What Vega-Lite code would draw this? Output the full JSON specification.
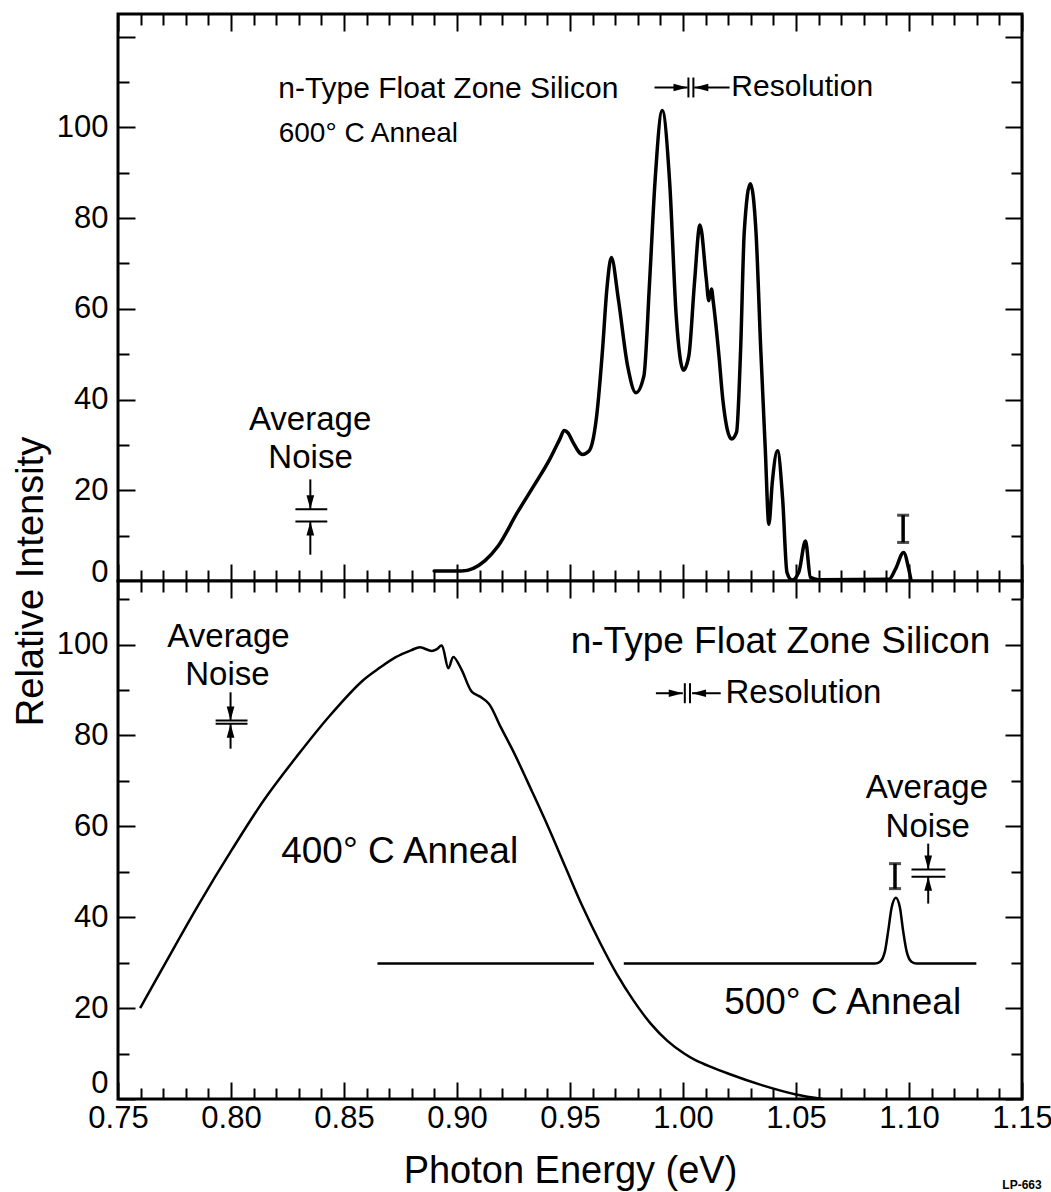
{
  "$schema": "https://vega.github.io/schema/vega-lite/v6.json",
  "background": "white",
  "padding": {"left": 10, "top": 11, "right": 4, "bottom": 0},
  "bounds": "flush",
  "spacing": 0,
  "config": {
    "font": "Liberation Sans",
    "view": {"stroke": "black", "strokeWidth": 3, "fill": "white"},
    "axis": {
      "domain": false, "grid": false,
      "tickColor": "black", "tickWidth": 2,
      "labelColor": "black", "titleColor": "black",
      "labelFont": "Liberation Sans", "titleFont": "Liberation Sans",
      "labelFontSize": 31, "titleFontSize": 38, "titleFontWeight": "normal",
      "labelOverlap": false, "labelFlush": false
    },
    "text": {"font": "Liberation Sans", "color": "black"}
  },
  "datasets": {
    "spectrum600": [
      {"energy": 0.8899, "intensity": 2.2}, {"energy": 0.9019, "intensity": 2.2},
      {"energy": 0.9124, "intensity": 4.5}, {"energy": 0.9182, "intensity": 7.7},
      {"energy": 0.9266, "intensity": 15.0}, {"energy": 0.9339, "intensity": 20.9},
      {"energy": 0.9410, "intensity": 26.8}, {"energy": 0.9457, "intensity": 31.5},
      {"energy": 0.9474, "intensity": 33.2}, {"energy": 0.9492, "intensity": 32.6},
      {"energy": 0.9511, "intensity": 30.8}, {"energy": 0.9555, "intensity": 27.9},
      {"energy": 0.9583, "intensity": 28.6}, {"energy": 0.9599, "intensity": 30.5},
      {"energy": 0.9618, "intensity": 36.4}, {"energy": 0.9644, "intensity": 51.0},
      {"energy": 0.9663, "intensity": 64.3}, {"energy": 0.9683, "intensity": 71.3},
      {"energy": 0.9714, "intensity": 62.1}, {"energy": 0.9755, "intensity": 47.4},
      {"energy": 0.9792, "intensity": 41.5}, {"energy": 0.9827, "intensity": 45.2},
      {"energy": 0.9852, "intensity": 65.8}, {"energy": 0.9876, "intensity": 87.9},
      {"energy": 0.9908, "intensity": 103.7}, {"energy": 0.9941, "intensity": 87.9},
      {"energy": 0.9970, "intensity": 58.4}, {"energy": 1.0002, "intensity": 46.5},
      {"energy": 1.0026, "intensity": 49.7}, {"energy": 1.0051, "intensity": 65.9},
      {"energy": 1.0075, "intensity": 78.5}, {"energy": 1.0103, "intensity": 66.6},
      {"energy": 1.0114, "intensity": 61.8}, {"energy": 1.0126, "intensity": 64.4},
      {"energy": 1.0134, "intensity": 61.5}, {"energy": 1.0159, "intensity": 49.7},
      {"energy": 1.0176, "intensity": 40.1}, {"energy": 1.0215, "intensity": 31.3},
      {"energy": 1.0237, "intensity": 32.8}, {"energy": 1.0255, "intensity": 51.1},
      {"energy": 1.0271, "intensity": 76.9}, {"energy": 1.0298, "intensity": 87.6},
      {"energy": 1.0323, "intensity": 76.9}, {"energy": 1.0344, "intensity": 51.1},
      {"energy": 1.0364, "intensity": 29.1}, {"energy": 1.0380, "intensity": 12.5},
      {"energy": 1.0395, "intensity": 21.7}, {"energy": 1.0418, "intensity": 28.7},
      {"energy": 1.0441, "intensity": 18.0}, {"energy": 1.0460, "intensity": 1.9},
      {"energy": 1.0482, "intensity": 0.2}, {"energy": 1.0512, "intensity": 1.9},
      {"energy": 1.0542, "intensity": 8.8}, {"energy": 1.0564, "intensity": 0.8},
      {"energy": 1.0600, "intensity": 0.3}, {"energy": 1.0912, "intensity": 0.4},
      {"energy": 1.0940, "intensity": 2.6}, {"energy": 1.0976, "intensity": 6.3},
      {"energy": 1.0999, "intensity": 2.6}, {"energy": 1.1008, "intensity": 0.4}
    ],
    "anneal400": [
      {"energy": 0.7598, "intensity": 20.0}, {"energy": 0.7714, "intensity": 30.3},
      {"energy": 0.7858, "intensity": 42.9}, {"energy": 0.8002, "intensity": 54.7},
      {"energy": 0.8146, "intensity": 65.8}, {"energy": 0.8291, "intensity": 75.4},
      {"energy": 0.8436, "intensity": 84.3}, {"energy": 0.8581, "intensity": 92.0},
      {"energy": 0.8661, "intensity": 95.0}, {"energy": 0.8727, "intensity": 97.2},
      {"energy": 0.8799, "intensity": 98.8}, {"energy": 0.8836, "intensity": 99.4},
      {"energy": 0.8888, "intensity": 98.6}, {"energy": 0.8911, "intensity": 99.0},
      {"energy": 0.8932, "intensity": 99.8}, {"energy": 0.8962, "intensity": 94.8},
      {"energy": 0.8984, "intensity": 97.3}, {"energy": 0.9021, "intensity": 94.4},
      {"energy": 0.9066, "intensity": 89.6}, {"energy": 0.9104, "intensity": 88.5},
      {"energy": 0.9141, "intensity": 87.0}, {"energy": 0.9193, "intensity": 81.9},
      {"energy": 0.9254, "intensity": 76.0}, {"energy": 0.9330, "intensity": 67.9},
      {"energy": 0.9405, "intensity": 59.7}, {"energy": 0.9481, "intensity": 50.9},
      {"energy": 0.9556, "intensity": 42.3}, {"energy": 0.9632, "intensity": 34.5},
      {"energy": 0.9706, "intensity": 27.6}, {"energy": 0.9782, "intensity": 21.6},
      {"energy": 0.9857, "intensity": 16.6}, {"energy": 0.9931, "intensity": 12.8},
      {"energy": 1.0005, "intensity": 10.0}, {"energy": 1.0057, "intensity": 8.5},
      {"energy": 1.0205, "intensity": 5.5}, {"energy": 1.0352, "intensity": 3.0},
      {"energy": 1.0500, "intensity": 1.0}, {"energy": 1.0618, "intensity": 0.0}
    ],
    "anneal500": [
      {"trace": "a", "energy": 0.8648, "intensity": 29.8}, {"trace": "a", "energy": 0.9606, "intensity": 29.8},
      {"trace": "b", "energy": 0.9738, "intensity": 29.8}, {"trace": "b", "energy": 1.0850, "intensity": 29.8},
      {"trace": "b", "energy": 1.0872, "intensity": 30.2}, {"trace": "b", "energy": 1.0894, "intensity": 32.6},
      {"trace": "b", "energy": 1.0908, "intensity": 37.0}, {"trace": "b", "energy": 1.0923, "intensity": 42.1},
      {"trace": "b", "energy": 1.0942, "intensity": 44.3}, {"trace": "b", "energy": 1.0960, "intensity": 42.1},
      {"trace": "b", "energy": 1.0974, "intensity": 37.0}, {"trace": "b", "energy": 1.0989, "intensity": 32.6},
      {"trace": "b", "energy": 1.1011, "intensity": 30.2}, {"trace": "b", "energy": 1.1033, "intensity": 29.8},
      {"trace": "b", "energy": 1.1298, "intensity": 29.8}
    ],
    "topSegments": [
      {"x1": 1.0024, "x2": 1.0024, "y1": 106.6, "y2": 111.0},
      {"x1": 1.0046, "x2": 1.0046, "y1": 106.6, "y2": 111.0},
      {"x1": 0.9874, "x2": 1.0020, "y1": 108.8, "y2": 108.8},
      {"x1": 1.0206, "x2": 1.0050, "y1": 108.8, "y2": 108.8},
      {"x1": 0.8351, "x2": 0.8351, "y1": 22.4, "y2": 15.8},
      {"x1": 0.8285, "x2": 0.8426, "y1": 15.8, "y2": 15.8},
      {"x1": 0.8285, "x2": 0.8426, "y1": 13.1, "y2": 13.1},
      {"x1": 0.8351, "x2": 0.8351, "y1": 5.8, "y2": 13.1}
    ],
    "topHeads": [
      {"x": 1.0020, "y": 108.8, "dir": "right"},
      {"x": 1.0050, "y": 108.8, "dir": "left"},
      {"x": 0.8351, "y": 15.8, "dir": "down"},
      {"x": 0.8351, "y": 13.1, "dir": "up"}
    ],
    "topBar": [{"x": 1.0974, "low": 8.5, "high": 14.5}],
    "topLabels": [
      {"x": 0.8209, "y": 108.4, "text": "n-Type Float Zone Silicon", "role": "left"},
      {"x": 0.8211, "y": 98.5, "text": "600° C Anneal", "role": "small"},
      {"x": 1.0214, "y": 108.8, "text": "Resolution", "role": "left"},
      {"x": 0.8350, "y": 35.6, "text": "Average", "role": "center"},
      {"x": 0.8352, "y": 27.2, "text": "Noise", "role": "center"}
    ],
    "bottomSegments": [
      {"x1": 1.0008, "x2": 1.0008, "y1": 87.1, "y2": 91.5},
      {"x1": 1.0031, "x2": 1.0031, "y1": 87.1, "y2": 91.5},
      {"x1": 0.9880, "x2": 0.9999, "y1": 89.3, "y2": 89.3},
      {"x1": 1.0167, "x2": 1.0040, "y1": 89.3, "y2": 89.3},
      {"x1": 0.7998, "x2": 0.7998, "y1": 89.5, "y2": 83.3},
      {"x1": 0.7932, "x2": 0.8073, "y1": 83.3, "y2": 83.3},
      {"x1": 0.7932, "x2": 0.8073, "y1": 82.6, "y2": 82.6},
      {"x1": 0.7998, "x2": 0.7998, "y1": 77.1, "y2": 82.6},
      {"x1": 1.1085, "x2": 1.1085, "y1": 56.2, "y2": 50.5},
      {"x1": 1.1011, "x2": 1.1161, "y1": 50.5, "y2": 50.5},
      {"x1": 1.1011, "x2": 1.1161, "y1": 48.9, "y2": 48.9},
      {"x1": 1.1085, "x2": 1.1085, "y1": 43.0, "y2": 48.9}
    ],
    "bottomHeads": [
      {"x": 0.9999, "y": 89.3, "dir": "right"},
      {"x": 1.0040, "y": 89.3, "dir": "left"},
      {"x": 0.7998, "y": 83.3, "dir": "down"},
      {"x": 0.7998, "y": 82.6, "dir": "up"},
      {"x": 1.1085, "y": 50.5, "dir": "down"},
      {"x": 1.1085, "y": 48.9, "dir": "up"}
    ],
    "bottomBar": [{"x": 1.0938, "low": 46.3, "high": 51.8}],
    "bottomLabels": [
      {"x": 0.9503, "y": 100.5, "text": "n-Type Float Zone Silicon", "role": "big"},
      {"x": 0.8222, "y": 54.4, "text": "400° C Anneal", "role": "big"},
      {"x": 1.0182, "y": 21.1, "text": "500° C Anneal", "role": "big"},
      {"x": 1.0188, "y": 89.3, "text": "Resolution", "role": "left"},
      {"x": 0.7989, "y": 101.6, "text": "Average", "role": "center"},
      {"x": 0.7984, "y": 93.4, "text": "Noise", "role": "center"},
      {"x": 1.1079, "y": 68.4, "text": "Average", "role": "center"},
      {"x": 1.1083, "y": 59.8, "text": "Noise", "role": "center"},
      {"x": 1.15, "y": -19, "text": "LP-663", "role": "tag"}
    ]
  },
  "vconcat": [
    {
      "width": 904,
      "height": 567,
      "resolve": {"axis": {"x": "independent", "y": "independent"}},
      "layer": [
        {
          "data": {"name": "spectrum600"},
          "mark": {"type": "line", "interpolate": "monotone", "color": "black", "strokeWidth": 3.5, "strokeJoin": "round", "strokeCap": "round"},
          "encoding": {
            "x": {"field": "energy", "type": "quantitative",
              "scale": {"domain": [0.75, 1.15], "nice": false, "zero": false},
              "axis": {"orient": "bottom", "title": null, "labels": false,
                "values": [0.75,0.76,0.77,0.78,0.79,0.8,0.81,0.82,0.83,0.84,0.85,0.86,0.87,0.88,0.89,0.9,0.91,0.92,0.93,0.94,0.95,0.96,0.97,0.98,0.99,1,1.01,1.02,1.03,1.04,1.05,1.06,1.07,1.08,1.09,1.1,1.11,1.12,1.13,1.14,1.15],
                "tickSize": {"condition": {"test": "round(datum.value*100) % 5 === 0", "value": -17}, "value": -11}}},
            "y": {"field": "intensity", "type": "quantitative",
              "scale": {"domain": [0, 125], "nice": false, "zero": false},
              "axis": {"orient": "left", "title": "Relative Intensity",
                "titleAnchor": "start", "titleAlign": "center", "titlePadding": 6,
                "values": [0,10,20,30,40,50,60,70,80,90,100,110,120],
                "labelExpr": "datum.value % 20 === 0 && datum.value <= 100 ? datum.label : ''",
                "labelPadding": 27,
                "labelBaseline": {"condition": {"test": "datum.value === 0", "value": "alphabetic"}, "value": "middle"},
                "tickSize": {"condition": {"test": "datum.value % 20 === 0", "value": -17}, "value": -11}}}
          }
        },
        {
          "data": {"name": "topSegments"},
          "mark": {"type": "rule", "color": "black", "strokeWidth": 2},
          "encoding": {
            "x": {"field": "x1", "type": "quantitative",
              "scale": {"domain": [0.75, 1.15], "nice": false, "zero": false},
              "axis": {"orient": "top", "title": null, "labels": false,
                "values": [0.75,0.76,0.77,0.78,0.79,0.8,0.81,0.82,0.83,0.84,0.85,0.86,0.87,0.88,0.89,0.9,0.91,0.92,0.93,0.94,0.95,0.96,0.97,0.98,0.99,1,1.01,1.02,1.03,1.04,1.05,1.06,1.07,1.08,1.09,1.1,1.11,1.12,1.13,1.14,1.15],
                "tickSize": {"condition": {"test": "round(datum.value*100) % 5 === 0", "value": -17}, "value": -11}}},
            "x2": {"field": "x2"},
            "y": {"field": "y1", "type": "quantitative",
              "scale": {"domain": [0, 125], "nice": false, "zero": false},
              "axis": {"orient": "right", "title": null, "labels": false,
                "values": [0,10,20,30,40,50,60,70,80,90,100,110,120],
                "tickSize": {"condition": {"test": "datum.value % 20 === 0", "value": -17}, "value": -11}}},
            "y2": {"field": "y2"}
          }
        },
        {
          "data": {"name": "topHeads"},
          "mark": {"type": "point", "filled": true, "color": "black", "opacity": 1, "size": 196},
          "encoding": {
            "x": {"field": "x", "type": "quantitative", "scale": {"domain": [0.75, 1.15], "nice": false, "zero": false}, "axis": null},
            "y": {"field": "y", "type": "quantitative", "scale": {"domain": [0, 125], "nice": false, "zero": false}, "axis": null},
            "shape": {"field": "dir", "type": "nominal", "legend": null,
              "scale": {"domain": ["down", "up", "left", "right"],
                "range": ["M-0.55,-2L0.55,-2L0,0Z", "M-0.55,2L0.55,2L0,0Z", "M2,-0.55L2,0.55L0,0Z", "M-2,-0.55L-2,0.55L0,0Z"]}}
          }
        },
        {
          "data": {"name": "topBar"},
          "mark": {"type": "rule", "color": "black", "strokeWidth": 3.5},
          "encoding": {
            "x": {"field": "x", "type": "quantitative", "scale": {"domain": [0.75, 1.15], "nice": false, "zero": false}, "axis": null},
            "y": {"field": "low", "type": "quantitative", "scale": {"domain": [0, 125], "nice": false, "zero": false}, "axis": null},
            "y2": {"field": "high"}
          }
        },
        {
          "data": {"name": "topBar"},
          "transform": [{"fold": ["low", "high"], "as": ["end", "level"]}],
          "mark": {"type": "tick", "orient": "horizontal", "color": "black", "size": 12, "thickness": 3},
          "encoding": {
            "x": {"field": "x", "type": "quantitative", "scale": {"domain": [0.75, 1.15], "nice": false, "zero": false}, "axis": null},
            "y": {"field": "level", "type": "quantitative", "scale": {"domain": [0, 125], "nice": false, "zero": false}, "axis": null}
          }
        },
        {
          "data": {"name": "topLabels"},
          "transform": [{"filter": "datum.role === 'left'"}],
          "mark": {"type": "text", "align": "left", "baseline": "middle", "fontSize": 30},
          "encoding": {
            "x": {"field": "x", "type": "quantitative", "scale": {"domain": [0.75, 1.15], "nice": false, "zero": false}, "axis": null},
            "y": {"field": "y", "type": "quantitative", "scale": {"domain": [0, 125], "nice": false, "zero": false}, "axis": null},
            "text": {"field": "text"}
          }
        },
        {
          "data": {"name": "topLabels"},
          "transform": [{"filter": "datum.role === 'small'"}],
          "mark": {"type": "text", "align": "left", "baseline": "middle", "fontSize": 28},
          "encoding": {
            "x": {"field": "x", "type": "quantitative", "scale": {"domain": [0.75, 1.15], "nice": false, "zero": false}, "axis": null},
            "y": {"field": "y", "type": "quantitative", "scale": {"domain": [0, 125], "nice": false, "zero": false}, "axis": null},
            "text": {"field": "text"}
          }
        },
        {
          "data": {"name": "topLabels"},
          "transform": [{"filter": "datum.role === 'center'"}],
          "mark": {"type": "text", "align": "center", "baseline": "middle", "fontSize": 33},
          "encoding": {
            "x": {"field": "x", "type": "quantitative", "scale": {"domain": [0.75, 1.15], "nice": false, "zero": false}, "axis": null},
            "y": {"field": "y", "type": "quantitative", "scale": {"domain": [0, 125], "nice": false, "zero": false}, "axis": null},
            "text": {"field": "text"}
          }
        }
      ]
    },
    {
      "width": 904,
      "height": 518,
      "resolve": {"axis": {"x": "independent", "y": "independent"}},
      "layer": [
        {
          "data": {"name": "anneal400"},
          "mark": {"type": "line", "interpolate": "catmull-rom", "color": "black", "strokeWidth": 2.5, "strokeJoin": "round"},
          "encoding": {
            "x": {"field": "energy", "type": "quantitative",
              "scale": {"domain": [0.75, 1.15], "nice": false, "zero": false},
              "axis": {"orient": "bottom", "title": "Photon Energy (eV)", "titlePadding": 13,
                "values": [0.75,0.76,0.77,0.78,0.79,0.8,0.81,0.82,0.83,0.84,0.85,0.86,0.87,0.88,0.89,0.9,0.91,0.92,0.93,0.94,0.95,0.96,0.97,0.98,0.99,1,1.01,1.02,1.03,1.04,1.05,1.06,1.07,1.08,1.09,1.1,1.11,1.12,1.13,1.14,1.15],
                "labelExpr": "round(datum.value*100) % 5 === 0 ? format(datum.value, '.2f') : ''",
                "labelPadding": 21,
                "tickSize": {"condition": {"test": "round(datum.value*100) % 5 === 0", "value": -17}, "value": -11}}},
            "y": {"field": "intensity", "type": "quantitative",
              "scale": {"domain": [0, 114], "nice": false, "zero": false},
              "axis": {"orient": "left", "title": null,
                "values": [0,10,20,30,40,50,60,70,80,90,100,110],
                "labelExpr": "datum.value % 20 === 0 ? datum.label : ''",
                "labelPadding": 27,
                "labelBaseline": {"condition": {"test": "datum.value === 0", "value": "bottom"}, "value": "middle"},
                "tickSize": {"condition": {"test": "datum.value % 20 === 0", "value": -17}, "value": -11}}}
          }
        },
        {
          "data": {"name": "anneal500"},
          "mark": {"type": "line", "interpolate": "monotone", "color": "black", "strokeWidth": 2.5, "strokeJoin": "round"},
          "encoding": {
            "x": {"field": "energy", "type": "quantitative", "scale": {"domain": [0.75, 1.15], "nice": false, "zero": false}, "axis": null},
            "y": {"field": "intensity", "type": "quantitative", "scale": {"domain": [0, 114], "nice": false, "zero": false}, "axis": null},
            "detail": {"field": "trace"}
          }
        },
        {
          "data": {"name": "bottomSegments"},
          "mark": {"type": "rule", "color": "black", "strokeWidth": 2},
          "encoding": {
            "x": {"field": "x1", "type": "quantitative",
              "scale": {"domain": [0.75, 1.15], "nice": false, "zero": false},
              "axis": {"orient": "top", "title": null, "labels": false,
                "values": [0.75,0.76,0.77,0.78,0.79,0.8,0.81,0.82,0.83,0.84,0.85,0.86,0.87,0.88,0.89,0.9,0.91,0.92,0.93,0.94,0.95,0.96,0.97,0.98,0.99,1,1.01,1.02,1.03,1.04,1.05,1.06,1.07,1.08,1.09,1.1,1.11,1.12,1.13,1.14,1.15],
                "tickSize": {"condition": {"test": "round(datum.value*100) % 5 === 0", "value": -17}, "value": -11}}},
            "x2": {"field": "x2"},
            "y": {"field": "y1", "type": "quantitative",
              "scale": {"domain": [0, 114], "nice": false, "zero": false},
              "axis": {"orient": "right", "title": null, "labels": false,
                "values": [0,10,20,30,40,50,60,70,80,90,100,110],
                "tickSize": {"condition": {"test": "datum.value % 20 === 0", "value": -17}, "value": -11}}},
            "y2": {"field": "y2"}
          }
        },
        {
          "data": {"name": "bottomHeads"},
          "mark": {"type": "point", "filled": true, "color": "black", "opacity": 1, "size": 196},
          "encoding": {
            "x": {"field": "x", "type": "quantitative", "scale": {"domain": [0.75, 1.15], "nice": false, "zero": false}, "axis": null},
            "y": {"field": "y", "type": "quantitative", "scale": {"domain": [0, 114], "nice": false, "zero": false}, "axis": null},
            "shape": {"field": "dir", "type": "nominal", "legend": null,
              "scale": {"domain": ["down", "up", "left", "right"],
                "range": ["M-0.55,-2L0.55,-2L0,0Z", "M-0.55,2L0.55,2L0,0Z", "M2,-0.55L2,0.55L0,0Z", "M-2,-0.55L-2,0.55L0,0Z"]}}
          }
        },
        {
          "data": {"name": "bottomBar"},
          "mark": {"type": "rule", "color": "black", "strokeWidth": 3.5},
          "encoding": {
            "x": {"field": "x", "type": "quantitative", "scale": {"domain": [0.75, 1.15], "nice": false, "zero": false}, "axis": null},
            "y": {"field": "low", "type": "quantitative", "scale": {"domain": [0, 114], "nice": false, "zero": false}, "axis": null},
            "y2": {"field": "high"}
          }
        },
        {
          "data": {"name": "bottomBar"},
          "transform": [{"fold": ["low", "high"], "as": ["end", "level"]}],
          "mark": {"type": "tick", "orient": "horizontal", "color": "black", "size": 12, "thickness": 3},
          "encoding": {
            "x": {"field": "x", "type": "quantitative", "scale": {"domain": [0.75, 1.15], "nice": false, "zero": false}, "axis": null},
            "y": {"field": "level", "type": "quantitative", "scale": {"domain": [0, 114], "nice": false, "zero": false}, "axis": null}
          }
        },
        {
          "data": {"name": "bottomLabels"},
          "transform": [{"filter": "datum.role === 'big'"}],
          "mark": {"type": "text", "align": "left", "baseline": "middle", "fontSize": 37},
          "encoding": {
            "x": {"field": "x", "type": "quantitative", "scale": {"domain": [0.75, 1.15], "nice": false, "zero": false}, "axis": null},
            "y": {"field": "y", "type": "quantitative", "scale": {"domain": [0, 114], "nice": false, "zero": false}, "axis": null},
            "text": {"field": "text"}
          }
        },
        {
          "data": {"name": "bottomLabels"},
          "transform": [{"filter": "datum.role === 'left'"}],
          "mark": {"type": "text", "align": "left", "baseline": "middle", "fontSize": 33},
          "encoding": {
            "x": {"field": "x", "type": "quantitative", "scale": {"domain": [0.75, 1.15], "nice": false, "zero": false}, "axis": null},
            "y": {"field": "y", "type": "quantitative", "scale": {"domain": [0, 114], "nice": false, "zero": false}, "axis": null},
            "text": {"field": "text"}
          }
        },
        {
          "data": {"name": "bottomLabels"},
          "transform": [{"filter": "datum.role === 'center'"}],
          "mark": {"type": "text", "align": "center", "baseline": "middle", "fontSize": 33},
          "encoding": {
            "x": {"field": "x", "type": "quantitative", "scale": {"domain": [0.75, 1.15], "nice": false, "zero": false}, "axis": null},
            "y": {"field": "y", "type": "quantitative", "scale": {"domain": [0, 114], "nice": false, "zero": false}, "axis": null},
            "text": {"field": "text"}
          }
        },
        {
          "data": {"name": "bottomLabels"},
          "transform": [{"filter": "datum.role === 'tag'"}],
          "mark": {"type": "text", "align": "center", "baseline": "middle", "fontSize": 12, "fontWeight": "bold"},
          "encoding": {
            "x": {"field": "x", "type": "quantitative", "scale": {"domain": [0.75, 1.15], "nice": false, "zero": false}, "axis": null},
            "y": {"field": "y", "type": "quantitative", "scale": {"domain": [0, 114], "nice": false, "zero": false}, "axis": null},
            "text": {"field": "text"}
          }
        }
      ]
    }
  ]
}
